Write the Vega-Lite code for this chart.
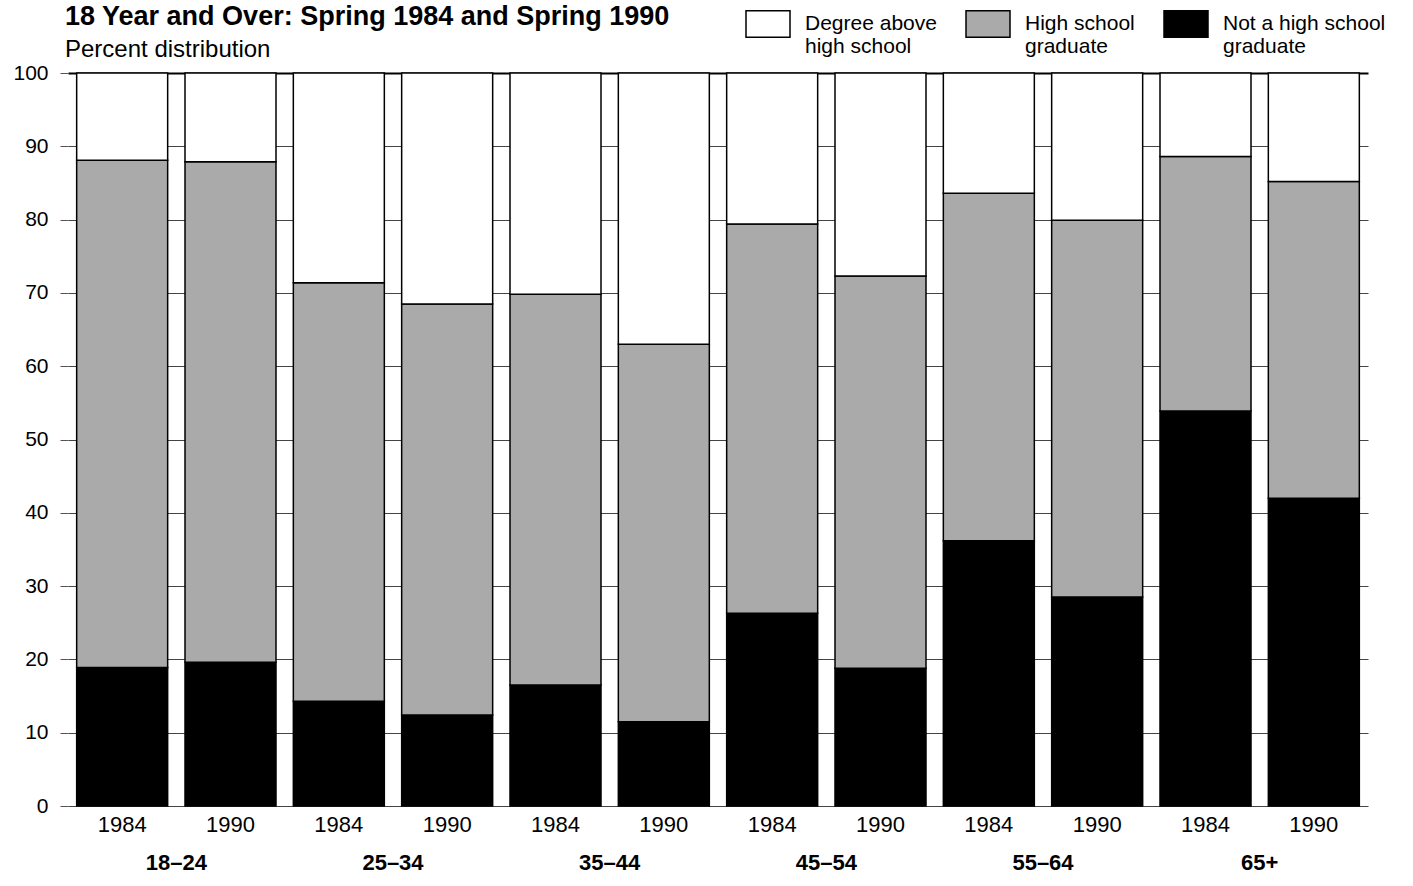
{
  "$schema": "https://vega.github.io/schema/vega-lite/v6.json",
  "width": 1300,
  "height": 733,
  "autosize": {"type": "none"},
  "padding": {"left": 68, "top": 73, "right": 45, "bottom": 80},
  "background": "white",
  "config": {"font": "Liberation Sans", "view": {"stroke": null}},
  "title": {
    "text": "18 Year and Over: Spring 1984 and Spring 1990",
    "subtitle": "Percent distribution",
    "anchor": "start",
    "frame": "group",
    "fontSize": 27,
    "fontWeight": "bold",
    "subtitleFontSize": 24,
    "color": "black",
    "subtitleColor": "black",
    "offset": 12,
    "subtitlePadding": 7,
    "dx": -3,
    "dy": 74
  },
  "data": {
    "values": [
      {"age": "18–24", "year": "1984", "key": "18–24 1984", "category": "Not a high school graduate", "value": 18.9},
      {"age": "18–24", "year": "1984", "key": "18–24 1984", "category": "High school graduate", "value": 69.2},
      {"age": "18–24", "year": "1984", "key": "18–24 1984", "category": "Degree above high school", "value": 11.9},
      {"age": "18–24", "year": "1990", "key": "18–24 1990", "category": "Not a high school graduate", "value": 19.6},
      {"age": "18–24", "year": "1990", "key": "18–24 1990", "category": "High school graduate", "value": 68.3},
      {"age": "18–24", "year": "1990", "key": "18–24 1990", "category": "Degree above high school", "value": 12.1},
      {"age": "25–34", "year": "1984", "key": "25–34 1984", "category": "Not a high school graduate", "value": 14.3},
      {"age": "25–34", "year": "1984", "key": "25–34 1984", "category": "High school graduate", "value": 57.1},
      {"age": "25–34", "year": "1984", "key": "25–34 1984", "category": "Degree above high school", "value": 28.6},
      {"age": "25–34", "year": "1990", "key": "25–34 1990", "category": "Not a high school graduate", "value": 12.4},
      {"age": "25–34", "year": "1990", "key": "25–34 1990", "category": "High school graduate", "value": 56.1},
      {"age": "25–34", "year": "1990", "key": "25–34 1990", "category": "Degree above high school", "value": 31.5},
      {"age": "35–44", "year": "1984", "key": "35–44 1984", "category": "Not a high school graduate", "value": 16.5},
      {"age": "35–44", "year": "1984", "key": "35–44 1984", "category": "High school graduate", "value": 53.3},
      {"age": "35–44", "year": "1984", "key": "35–44 1984", "category": "Degree above high school", "value": 30.2},
      {"age": "35–44", "year": "1990", "key": "35–44 1990", "category": "Not a high school graduate", "value": 11.5},
      {"age": "35–44", "year": "1990", "key": "35–44 1990", "category": "High school graduate", "value": 51.5},
      {"age": "35–44", "year": "1990", "key": "35–44 1990", "category": "Degree above high school", "value": 37.0},
      {"age": "45–54", "year": "1984", "key": "45–54 1984", "category": "Not a high school graduate", "value": 26.3},
      {"age": "45–54", "year": "1984", "key": "45–54 1984", "category": "High school graduate", "value": 53.1},
      {"age": "45–54", "year": "1984", "key": "45–54 1984", "category": "Degree above high school", "value": 20.6},
      {"age": "45–54", "year": "1990", "key": "45–54 1990", "category": "Not a high school graduate", "value": 18.8},
      {"age": "45–54", "year": "1990", "key": "45–54 1990", "category": "High school graduate", "value": 53.5},
      {"age": "45–54", "year": "1990", "key": "45–54 1990", "category": "Degree above high school", "value": 27.7},
      {"age": "55–64", "year": "1984", "key": "55–64 1984", "category": "Not a high school graduate", "value": 36.2},
      {"age": "55–64", "year": "1984", "key": "55–64 1984", "category": "High school graduate", "value": 47.4},
      {"age": "55–64", "year": "1984", "key": "55–64 1984", "category": "Degree above high school", "value": 16.4},
      {"age": "55–64", "year": "1990", "key": "55–64 1990", "category": "Not a high school graduate", "value": 28.5},
      {"age": "55–64", "year": "1990", "key": "55–64 1990", "category": "High school graduate", "value": 51.4},
      {"age": "55–64", "year": "1990", "key": "55–64 1990", "category": "Degree above high school", "value": 20.1},
      {"age": "65+", "year": "1984", "key": "65+ 1984", "category": "Not a high school graduate", "value": 53.9},
      {"age": "65+", "year": "1984", "key": "65+ 1984", "category": "High school graduate", "value": 34.7},
      {"age": "65+", "year": "1984", "key": "65+ 1984", "category": "Degree above high school", "value": 11.4},
      {"age": "65+", "year": "1990", "key": "65+ 1990", "category": "Not a high school graduate", "value": 42.0},
      {"age": "65+", "year": "1990", "key": "65+ 1990", "category": "High school graduate", "value": 43.2},
      {"age": "65+", "year": "1990", "key": "65+ 1990", "category": "Degree above high school", "value": 14.8}
    ]
  },
  "layer": [
    {
      "mark": {"type": "bar", "stroke": "black", "strokeWidth": 1.5},
      "encoding": {
        "x": {
          "field": "key",
          "type": "nominal",
          "sort": null,
          "scale": {"paddingInner": 0.16, "paddingOuter": 0.08},
          "axis": {
            "title": null,
            "labelExpr": "slice(datum.value, -4)",
            "ticks": false,
            "domain": false,
            "labelFontSize": 22,
            "labelColor": "black",
            "labelPadding": 8,
            "labelAngle": 0
          }
        },
        "y": {
          "field": "value",
          "type": "quantitative",
          "stack": "zero",
          "scale": {"domain": [0, 100], "nice": false},
          "axis": {
            "title": null,
            "values": [0, 10, 20, 30, 40, 50, 60, 70, 80, 90, 100],
            "domain": false,
            "labelFontSize": 21,
            "labelColor": "black",
            "tickSize": 8,
            "tickColor": "#555555",
            "labelPadding": 12,
            "gridColor": {"condition": {"test": "datum.value == 100", "value": "black"}, "value": "#444444"},
            "gridWidth": {"condition": {"test": "datum.value == 100", "value": 2}, "value": 1}
          }
        },
        "color": {
          "field": "category",
          "type": "nominal",
          "scale": {
            "domain": ["Degree above high school", "High school graduate", "Not a high school graduate"],
            "range": ["#ffffff", "#aaaaaa", "#000000"]
          },
          "legend": {
            "orient": "none",
            "legendX": 677,
            "legendY": -72,
            "direction": "horizontal",
            "title": null,
            "labelFontSize": 21,
            "labelColor": "black",
            "labelLimit": 300,
            "labelExpr": "datum.label == 'Degree above high school' ? ['Degree above', 'high school'] : datum.label == 'High school graduate' ? ['High school', 'graduate'] : ['Not a high school', 'graduate']",
            "symbolType": "M-1,-0.6H1V0.6H-1Z",
            "symbolSize": 1936,
            "symbolStrokeColor": "black",
            "symbolStrokeWidth": 1.5,
            "symbolOpacity": 1,
            "labelOffset": 14,
            "columnPadding": 26
          }
        },
        "order": {"field": "category", "sort": "descending"}
      }
    },
    {
      "mark": {"type": "bar", "opacity": 0},
      "encoding": {
        "x": {
          "field": "age",
          "type": "nominal",
          "sort": null,
          "scale": {"paddingInner": 0, "paddingOuter": 0},
          "axis": {
            "orient": "bottom",
            "title": null,
            "ticks": false,
            "domain": false,
            "grid": false,
            "labelFontSize": 22,
            "labelFontWeight": "bold",
            "labelColor": "black",
            "labelPadding": 46,
            "labelAngle": 0
          }
        }
      }
    }
  ],
  "resolve": {"scale": {"x": "independent"}, "axis": {"x": "independent"}}
}
